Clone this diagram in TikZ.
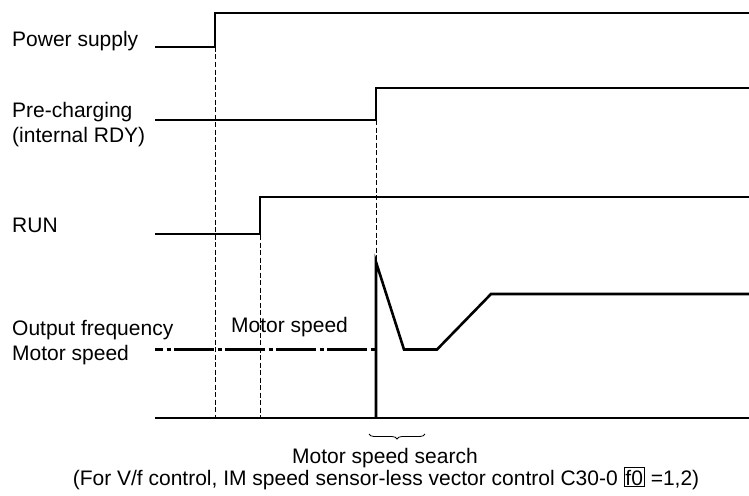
\documentclass[tikz,border=0pt]{standalone}
\usepackage{fontspec}
\setmainfont{Liberation Sans}
\usetikzlibrary{decorations.pathreplacing}
\begin{document}
\begin{tikzpicture}[x=1pt,y=-1pt,
  sig/.style={line width=2.6pt,line join=miter},
  guide/.style={line width=0.9pt,dash pattern=on 5pt off 2.5pt},
  dashdot/.style={line width=2.6pt,dash pattern=on 40pt off 3.5pt on 4pt off 3.5pt,dash phase=32pt},
  lbl/.style={anchor=base west,inner sep=0pt,font=\fontsize{21}{25}\selectfont},
  axis/.style={line width=1.6pt}]
\useasboundingbox (0,0) rectangle (749,495);
% labels
\node[lbl] (ps) at (12,47) {Power supply};
\node[lbl] (pc1) at (12,117) {Pre-charging};
\node[lbl] (pc2) at (12,142) {(internal RDY)};
\node[lbl] (run) at (12,232) {RUN};
\node[lbl] (of) at (12,335) {Output frequency};
\node[lbl] (ms) at (12,360) {Motor speed};
\node[lbl] (ms2) at (231,332) {Motor speed};
% guide lines
\draw[guide] (215,47) -- (215,418);
\draw[guide] (260,235) -- (260,418);
\draw[guide] (376,120) -- (376,262);
% signals
\draw[sig] (155,47) -- (215,47) -- (215,13) -- (749,13);
\draw[sig] (155,120) -- (376,120) -- (376,88) -- (749,88);
\draw[sig] (155,234) -- (260,234) -- (260,197) -- (749,197);
\draw[dashdot] (155,349.5) -- (376,349.5);
\draw[sig] (376,418) -- (376,262) -- (404,349.5) -- (437,349.5) -- (491,294) -- (749,294);
% axis
\draw[axis] (155,418) -- (749,418);
% brace
\coordinate (b1) at (369,434);
\coordinate (b2) at (425,434);
\draw[line width=0.8pt,decorate,decoration={brace,mirror,amplitude=5pt}] (b1) -- (b2);
\node[anchor=base,inner sep=0pt,font=\fontsize{21}{25}\selectfont] (mss) at (385,463) {Motor speed search};
\node[anchor=base,inner sep=0pt,font=\fontsize{21}{25}\selectfont] (cond) at (386,485) {(For V/f control, IM speed sensor-less vector control C30-0 {\setlength{\fboxsep}{0.8pt}\setlength{\fboxrule}{1.1pt}\fbox{\rule{0pt}{16.5pt}f0}} =1,2)};
\end{tikzpicture}
\end{document}
